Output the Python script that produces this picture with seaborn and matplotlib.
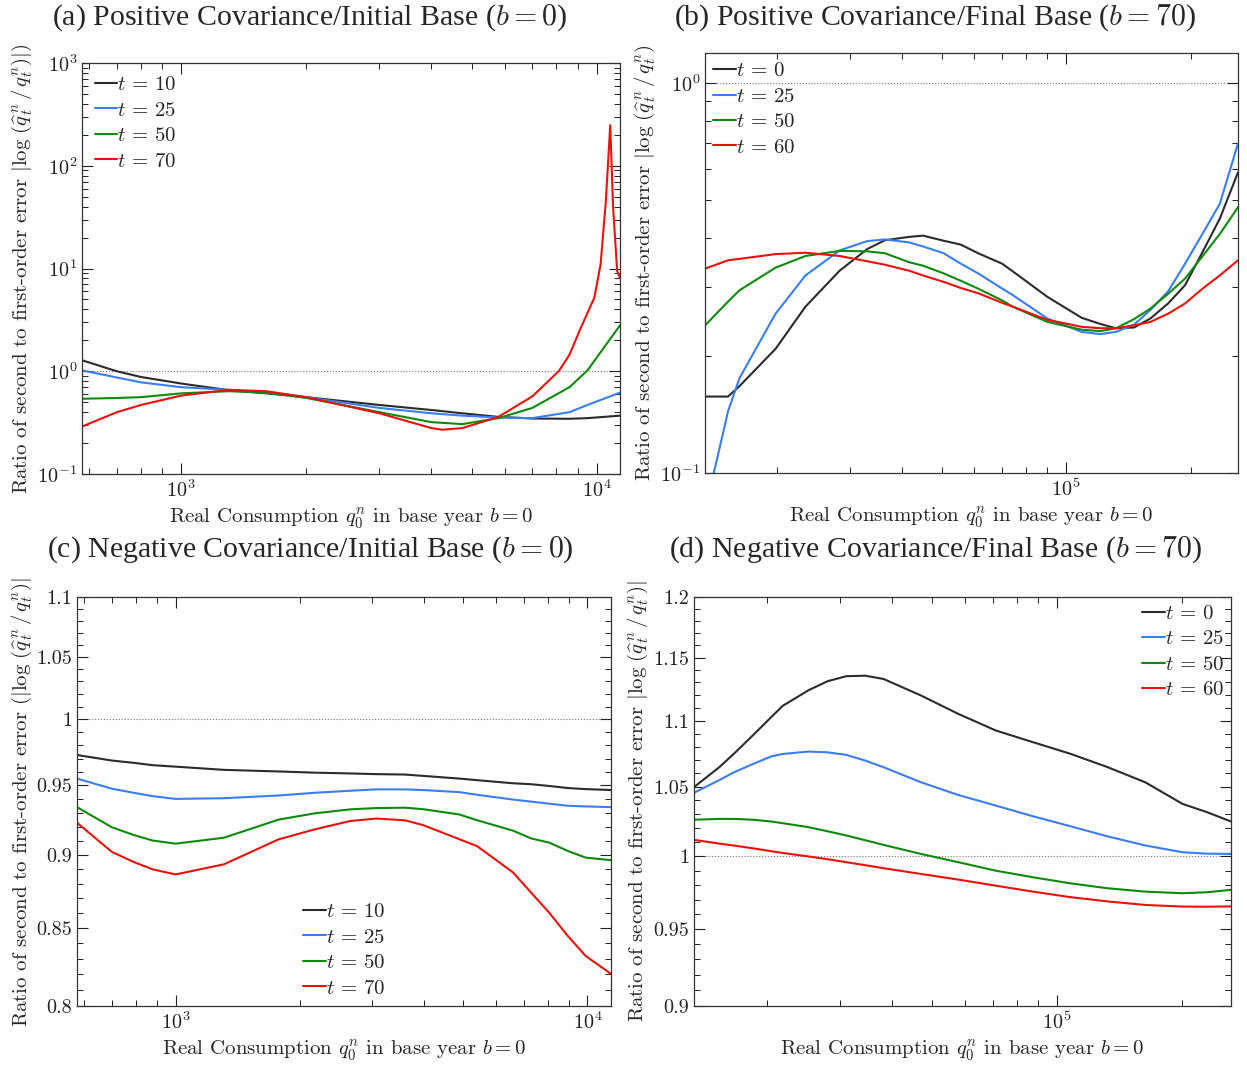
import numpy as np
import pandas as pd
import matplotlib
matplotlib.use('Agg')
import matplotlib.pyplot as plt
import matplotlib.ticker as mticker
import seaborn as sns

# =========================
# DATA
# =========================

# (a) positive covariance / initial base
qa_x = [577, 700, 800, 1000, 1300, 1600, 2000, 3000, 4000, 4750, 5800, 7000, 8600, 9500, 11380]
qa_t10 = [1.28, 1.0, 0.88, 0.76, 0.655, 0.61, 0.56, 0.47, 0.42, 0.39, 0.36, 0.347, 0.345, 0.35, 0.37]
qa_t25 = [1.02, 0.87, 0.78, 0.70, 0.66, 0.62, 0.56, 0.44, 0.39, 0.37, 0.355, 0.35, 0.40, 0.47, 0.62]
qa_t50 = [0.54, 0.55, 0.56, 0.61, 0.64, 0.62, 0.55, 0.40, 0.32, 0.306, 0.35, 0.44, 0.70, 1.02, 2.8]
qa_x_t70 = [577, 700, 800, 1000, 1300, 1600, 2000, 3000, 4000, 4250, 4750, 5800, 7000,
            8100, 8600, 9140, 9870, 10220, 10520, 10780, 10950, 11200, 11380]
qa_t70 = [0.29, 0.40, 0.47, 0.58, 0.66, 0.64, 0.56, 0.39, 0.28, 0.27, 0.28, 0.36, 0.57,
          1.0, 1.45, 2.6, 5.2, 11, 45, 248, 40, 9.5, 8.1]

# (b) positive covariance / final base
qb_x = [13370, 15200, 16200, 19800, 23400, 28300, 33000, 36400, 41700, 45000, 50500, 55600, 61200,
        70000, 74200, 90000, 109000, 121000, 132000, 146000, 160000, 176500, 194000, 214000, 235500, 260600]
qb_t0 = [0.157, 0.157, 0.167, 0.208, 0.267, 0.33, 0.375, 0.395, 0.403, 0.406, 0.394, 0.385, 0.366,
         0.344, 0.329, 0.283, 0.25, 0.241, 0.235, 0.236, 0.249, 0.272, 0.303, 0.369, 0.449, 0.59]
qb_t25 = [0.08, 0.144, 0.175, 0.256, 0.321, 0.372, 0.393, 0.397, 0.39, 0.381, 0.366, 0.344, 0.325,
          0.297, 0.286, 0.249, 0.23, 0.227, 0.23, 0.24, 0.262, 0.292, 0.344, 0.411, 0.49, 0.70]
qb_t50 = [0.239, 0.275, 0.294, 0.336, 0.36, 0.371, 0.37, 0.366, 0.347, 0.34, 0.325, 0.311, 0.297,
          0.277, 0.267, 0.244, 0.233, 0.231, 0.235, 0.248, 0.264, 0.288, 0.315, 0.36, 0.41, 0.48]
qb_t60 = [0.334, 0.351, 0.354, 0.364, 0.367, 0.36, 0.349, 0.342, 0.33, 0.321, 0.309, 0.298, 0.289,
          0.273, 0.267, 0.247, 0.237, 0.235, 0.235, 0.239, 0.244, 0.256, 0.272, 0.297, 0.321, 0.351]

# (c) negative covariance / initial base
qc_x = [576, 700, 790, 880, 1000, 1310, 1780, 2180, 2660, 3070, 3600, 3990, 4880, 5400, 6600,
        7300, 8080, 8950, 9900, 11400]
qc_t10 = [0.9727, 0.9685, 0.9668, 0.965, 0.9639, 0.9615, 0.9603, 0.9594, 0.9588, 0.9583, 0.958,
          0.957, 0.955, 0.9538, 0.9515, 0.9508, 0.9495, 0.948, 0.9472, 0.9465]
qc_t25 = [0.955, 0.9475, 0.9445, 0.942, 0.940, 0.9405, 0.9425, 0.9445, 0.946, 0.947, 0.947,
          0.9465, 0.945, 0.943, 0.9395, 0.938, 0.9365, 0.935, 0.9345, 0.934]
qc_t50 = [0.934, 0.9195, 0.914, 0.910, 0.9078, 0.912, 0.925, 0.9295, 0.9324, 0.9333, 0.9336,
          0.9325, 0.9287, 0.9245, 0.917, 0.9115, 0.9085, 0.9027, 0.898, 0.8962]
qc_t70 = [0.9228, 0.902, 0.895, 0.8898, 0.8863, 0.8933, 0.9109, 0.918, 0.924, 0.9257, 0.9245,
          0.921, 0.911, 0.906, 0.8876, 0.8738, 0.8602, 0.845, 0.8318, 0.8203]

# (d) negative covariance / final base
qd_x = [13340, 15350, 16680, 18490, 20510, 21830, 25230, 28000, 31050, 34500, 38190, 46990,
        57810, 71120, 87500, 107700, 132500, 163000, 200500, 230000, 262400]
qd_t0 = [1.0498, 1.0646, 1.075, 1.0887, 1.103, 1.1116, 1.124, 1.131, 1.135, 1.1354, 1.1328,
         1.1197, 1.1053, 1.0925, 1.0835, 1.0747, 1.0646, 1.0534, 1.0375, 1.0314, 1.0247]
qd_t25 = [1.0456, 1.055, 1.0609, 1.067, 1.0728, 1.0746, 1.0764, 1.0758, 1.0739, 1.0696, 1.0646,
          1.0534, 1.044, 1.0363, 1.0285, 1.0213, 1.014, 1.0076, 1.0028, 1.0018, 1.0016]
qd_t50 = [1.026, 1.0266, 1.0266, 1.026, 1.0247, 1.0235, 1.0206, 1.0177, 1.0147, 1.0113, 1.008,
          1.0016, 0.9958, 0.9899, 0.9853, 0.9811, 0.9777, 0.9754, 0.9743, 0.975, 0.9766]
qd_t60 = [1.0116, 1.0089, 1.0075, 1.0056, 1.0035, 1.0023, 0.9998, 0.9979, 0.9958, 0.9937, 0.9916,
          0.9876, 0.9837, 0.9795, 0.9754, 0.9716, 0.9687, 0.9663, 0.9652, 0.9651, 0.9653]

TITLES = [
    r'(a) Positive Covariance/Initial Base ($b=0$)',
    r'(b) Positive Covariance/Final Base ($b=70$)',
    r'(c) Negative Covariance/Initial Base ($b=0$)',
    r'(d) Negative Covariance/Final Base ($b=70$)',
]
XLABEL = r'Real Consumption $q_0^n$ in base year $b=0$'
YLABELS = [
    r'Ratio of second to first-order error $|\log\,(\widehat{q}_t^{\,n}\,/\,q_t^n)|$)',
    r'Ratio of second to first-order error $|\log\,(\widehat{q}_t^{\,n}\,/\,q_t^n)$',
    r'Ratio of second to first-order error $(|\log\,(\widehat{q}_t^{\,n}\,/\,q_t^n)|$',
    r'Ratio of second to first-order error $|\log\,(\widehat{q}_t^{\,n}\,/\,q_t^n)|$',
]

COLORS = ['#2b2b2b', '#3b7df4', '#0d8a0d', '#e8110b']

# =========================
# STYLE
# =========================

sns.set_theme(style='ticks')
plt.rcParams['font.family'] = ['cmr10', 'DejaVu Serif']
plt.rcParams['mathtext.fontset'] = 'cm'
plt.rcParams['axes.formatter.use_mathtext'] = True
plt.rcParams['axes.unicode_minus'] = False
plt.rcParams['axes.edgecolor'] = '#333333'
plt.rcParams['axes.linewidth'] = 0.9


def long_frame(pairs):
    parts = []
    for label, xs, ys in pairs:
        parts.append(pd.DataFrame({'x': xs, 'y': ys, 'series': label}))
    return pd.concat(parts, ignore_index=True)


def draw_panel(ax, frame, xlim, ylim, ylabel, legend_kw):
    order = list(dict.fromkeys(frame['series']))
    ax.set_xscale('log')
    ax.set_yscale('log')
    sns.lineplot(data=frame, x='x', y='y', hue='series', hue_order=order,
                 palette=COLORS, estimator=None, sort=False, linewidth=1.5, ax=ax)
    ax.axhline(1, color='#777777', linestyle=':', linewidth=0.8, zorder=0)
    ax.set_xlim(*xlim)
    ax.set_ylim(*ylim)
    ax.set_xlabel(XLABEL, fontsize=15, labelpad=4)
    ax.set_ylabel(ylabel, fontsize=15, labelpad=2)
    ax.tick_params(which='both', direction='in', top=True, right=True,
                   labelsize=14.5, colors='#222222')
    ax.tick_params(which='major', length=8, width=0.8)
    ax.tick_params(which='minor', length=4.5, width=0.7)
    sns.move_legend(ax, title=None, frameon=False, fontsize=15,
                    handlelength=1.1, handletextpad=0.0, labelspacing=0.33,
                    **legend_kw)


def linear_log_ticks(ax, majors, labels, lo, hi):
    ax.yaxis.set_major_locator(mticker.FixedLocator(majors))
    ax.yaxis.set_major_formatter(mticker.FixedFormatter(labels))
    minors = np.round(np.arange(lo, hi + 0.001, 0.01), 2)
    ax.yaxis.set_minor_locator(mticker.FixedLocator(minors))
    ax.yaxis.set_minor_formatter(mticker.NullFormatter())


fig = plt.figure(figsize=(12.47, 10.65), dpi=100)
ax_a = fig.add_axes([0.0658, 0.5549, 0.4314, 0.3859])
ax_b = fig.add_axes([0.5654, 0.5559, 0.4274, 0.3939])
ax_c = fig.add_axes([0.0617, 0.0554, 0.4282, 0.3840])
ax_d = fig.add_axes([0.5565, 0.0554, 0.4307, 0.3840])

frame_a = long_frame([(r'$t\,=\,10$', qa_x, qa_t10), (r'$t\,=\,25$', qa_x, qa_t25),
                      (r'$t\,=\,50$', qa_x, qa_t50), (r'$t\,=\,70$', qa_x_t70, qa_t70)])
frame_b = long_frame([(r'$t\,=\,0$', qb_x, qb_t0), (r'$t\,=\,25$', qb_x, qb_t25),
                      (r'$t\,=\,50$', qb_x, qb_t50), (r'$t\,=\,60$', qb_x, qb_t60)])
frame_c = long_frame([(r'$t\,=\,10$', qc_x, qc_t10), (r'$t\,=\,25$', qc_x, qc_t25),
                      (r'$t\,=\,50$', qc_x, qc_t50), (r'$t\,=\,70$', qc_x, qc_t70)])
frame_d = long_frame([(r'$t\,=\,0$', qd_x, qd_t0), (r'$t\,=\,25$', qd_x, qd_t25),
                      (r'$t\,=\,50$', qd_x, qd_t50), (r'$t\,=\,60$', qd_x, qd_t60)])

draw_panel(ax_a, frame_a, (577, 11380), (0.1, 1000), YLABELS[0],
           dict(loc='upper left', borderaxespad=0.35, borderpad=0.25))
draw_panel(ax_b, frame_b, (13370, 260600), (0.1, 1.19), YLABELS[1],
           dict(loc='upper left', borderaxespad=0.2, borderpad=0.2))
draw_panel(ax_c, frame_c, (576, 11400), (0.8, 1.1), YLABELS[2],
           dict(loc='lower center', bbox_to_anchor=(0.5, 0.0), borderaxespad=0.2, borderpad=0.2))
draw_panel(ax_d, frame_d, (13340, 262400), (0.9, 1.2), YLABELS[3],
           dict(loc='upper right', borderaxespad=0.15, borderpad=0.2))

linear_log_ticks(ax_c, [0.8, 0.85, 0.9, 0.95, 1.0, 1.05, 1.1],
                 ['0.8', '0.85', '0.9', '0.95', '1', '1.05', '1.1'], 0.8, 1.1)
linear_log_ticks(ax_d, [0.9, 0.95, 1.0, 1.05, 1.1, 1.15, 1.2],
                 ['0.9', '0.95', '1', '1.05', '1.1', '1.15', '1.2'], 0.9, 1.2)

for ax in (ax_a, ax_b, ax_c, ax_d):
    for line in ax.get_legend().get_lines():
        line.set_linewidth(1.5)

title_pos = [(0.2486, 0.983), (0.750, 0.983), (0.2486, 0.4836), (0.750, 0.4836)]
for text, (tx, ty) in zip(TITLES, title_pos):
    fig.text(tx, ty, text, ha='center', va='center', fontsize=21.5,
             family='Liberation Serif', math_fontfamily='cm')

fig.savefig('out.png', dpi=100)
